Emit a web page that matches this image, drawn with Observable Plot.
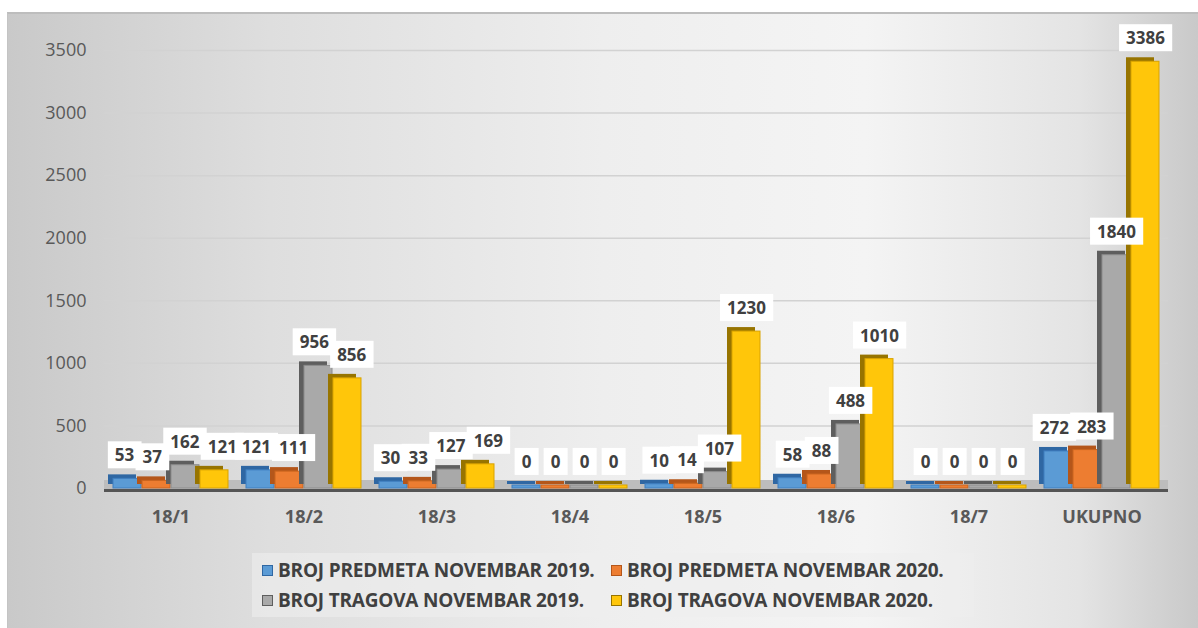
<!DOCTYPE html>
<html><head><meta charset="utf-8">
<script src="https://cdn.jsdelivr.net/npm/d3@7"></script>
<script src="https://cdn.jsdelivr.net/npm/@observablehq/plot@0.6"></script>
<style>
body{margin:0;width:1198px;height:628px;background:#fff;position:relative;overflow:hidden;font-family:"Open Sans",sans-serif;}
#bg{position:absolute;left:7px;top:12px;width:1191px;height:616px;border-top:2px solid #bdbdbd;border-left:1px solid #c4c4c4;box-sizing:border-box;
  background:linear-gradient(to right,#c9c9c9 0%,#dedede 22%,#eeeeee 50%,#f4f4f4 72%,#e4e4e4 90%,#c9c9c9 100%);}
#plot{position:absolute;left:0;top:0;}
#legend{position:absolute;left:252px;top:553px;width:722px;height:64px;background:rgba(238,238,238,0.6);display:grid;grid-template-columns:349px auto;align-content:center;row-gap:6px;padding-left:10px;box-sizing:border-box;}
.item{display:flex;align-items:center;font-weight:700;font-size:19px;color:#404040;white-space:nowrap;line-height:24px;letter-spacing:-0.2px;}
.sw{width:9px;height:9px;margin-right:5px;border:1px solid;}
svg [aria-label^="fx-axis"]{font-weight:700;font-size:18px;}
svg [aria-label^="y-axis"]{font-size:18px;}
</style></head><body>
<div id="bg"></div><div id="plot"></div><div id="legend"></div>
<script>
const categories = ["18/1","18/2","18/3","18/4","18/5","18/6","18/7","UKUPNO"];
const series = ["BROJ PREDMETA NOVEMBAR 2019.","BROJ PREDMETA NOVEMBAR 2020.","BROJ TRAGOVA NOVEMBAR 2019.","BROJ TRAGOVA NOVEMBAR 2020."];
const predmeta2019 = [53,121,30,0,10,58,0,272];
const predmeta2020 = [37,111,33,0,14,88,0,283];
const tragova2019  = [162,956,127,0,107,488,0,1840];
const tragova2020  = [121,856,169,0,1230,1010,0,3386];
const yTicks = [0,500,1000,1500,2000,2500,3000,3500];

const seriesValues = [predmeta2019, predmeta2020, tragova2019, tragova2020];
const mainColors = ["#5b9bd5","#ed7d31","#a9a9a9","#ffc60a"];
const darkColors = ["#2f67a3","#b4561a","#5e5e5e","#977400"];
const edgeColors = ["#3f7fc0","#c9651f","#8c8c8c","#d9a300"];

const rows = categories.flatMap((c, i) => series.map((s, j) => ({category: c, series: s, value: seriesValues[j][i]})));

const barMarks = series.flatMap((s, j) => [
  Plot.barY(rows, {filter: d => d.series === s, x: "series", y: "value", fill: darkColors[j], dx: -5, dy: -4, insetTop: -3}),
  Plot.barY(rows, {filter: d => d.series === s, x: "series", y: "value", fill: mainColors[j], stroke: edgeColors[j], strokeWidth: 1, insetTop: -3})
]);

const chart = Plot.plot({
  width: 1198, height: 540,
  marginLeft: 104, marginRight: 30, marginTop: 50, marginBottom: 52,
  style: {background: "transparent", fontFamily: "Open Sans", fontSize: "18px", color: "#595959", overflow: "visible"},
  facet: {data: rows, x: "category"},
  fx: {domain: categories, padding: 0, label: null, tickSize: 0, tickPadding: 22},
  x: {domain: series, paddingInner: 0.04, paddingOuter: 0.25, axis: null},
  y: {domain: [0, 3500], ticks: yTicks, tickFormat: d => String(d), tickSize: 0, tickPadding: 18, label: null},
  marks: [
    Plot.ruleY(yTicks, {stroke: "#d2d2d2", strokeWidth: 1.5}),
    Plot.ruleY([0], {stroke: "#bdbdbd", strokeWidth: 9, dy: -4}),
    Plot.ruleY([0], {stroke: "#555555", strokeWidth: 3, dy: 2}),
    ...barMarks,
    Plot.text(rows, {x: "series", y: "value", text: d => String(d.value), dy: -26,
      fontSize: 17, fontWeight: "bold", fill: "#404040", fontFamily: "Open Sans"})
  ]
});
document.getElementById("plot").append(chart);

// white label boxes behind data labels; crowded labels are spread apart a little
const ns = "http://www.w3.org/2000/svg";
const texts = [...chart.querySelectorAll('g[aria-label="text"] text')];
const byParent = new Map();
texts.forEach(t => {
  const p = t.parentNode;
  if (!byParent.has(p)) byParent.set(p, []);
  byParent.get(p).push(t);
});
const minGap = 8;
byParent.forEach((ts, p) => {
  const info = ts.map(t => { const c = t.getBoundingClientRect(); return {t, left: c.left, right: c.right, cy: (c.top + c.bottom) / 2, shift: 0}; })
    .sort((a, b) => a.left - b.left);
  for (let iter = 0; iter < 60; iter++) {
    for (let i = 1; i < info.length; i++) {
      const a = info[i - 1], b = info[i];
      if (Math.abs(a.cy - b.cy) < 20) {
        const gap = (b.left + b.shift) - (a.right + a.shift);
        if (gap < minGap) { const d = (minGap - gap) / 2; a.shift -= d; b.shift += d; }
      }
    }
  }
  const rects = info.map(o => {
    const tr = (o.t.getAttribute("transform") || "") + (o.shift ? ` translate(${o.shift.toFixed(2)},0)` : "");
    if (tr) o.t.setAttribute("transform", tr);
    const b = o.t.getBBox();
    const r = document.createElementNS(ns, "rect");
    r.setAttribute("x", b.x - 7);
    r.setAttribute("y", b.y - 2);
    r.setAttribute("width", b.width + 14);
    r.setAttribute("height", b.height + 4);
    r.setAttribute("fill", "#ffffff");
    r.setAttribute("stroke", "none");
    if (tr) r.setAttribute("transform", tr);
    return r;
  });
  const first = p.firstChild;
  rects.forEach(r => p.insertBefore(r, first));
});

// legend
const legend = document.getElementById("legend");
[0, 1, 2, 3].forEach(j => {
  const it = document.createElement("div");
  it.className = "item";
  const sw = document.createElement("span");
  sw.className = "sw";
  sw.style.background = mainColors[j];
  sw.style.borderColor = darkColors[j];
  it.append(sw, document.createTextNode(series[j]));
  legend.append(it);
});
</script>
</body></html>
